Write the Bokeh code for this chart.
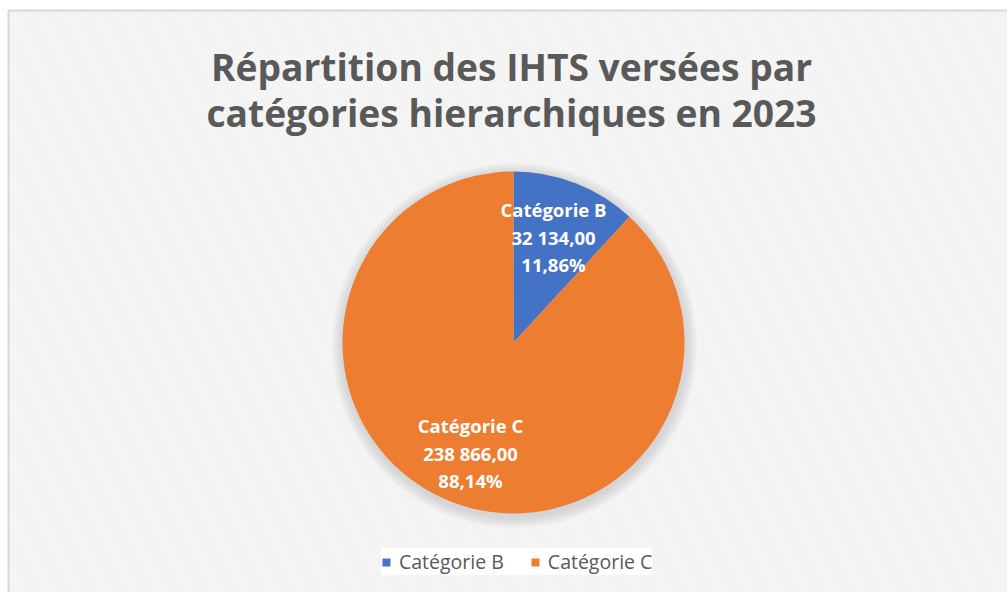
import math
from bokeh.plotting import figure
from bokeh.models import Range1d, Legend, LegendItem, ColumnDataSource
from bokeh.core.properties import value
from bokeh.embed import file_html
from bokeh.resources import INLINE

# ---- data ----
categories = ["Catégorie B", "Catégorie C"]
values = [32134.00, 238866.00]
colors = ["#4472C4", "#ED7D31"]
title_lines = ["Répartition des IHTS versées par", "catégories hierarchiques en 2023"]

W, H = 1007, 592
p = figure(width=W, height=H, output_backend="svg", toolbar_location=None,
           x_range=Range1d(0, W), y_range=Range1d(0, H),
           min_border=0, outline_line_color=None)
p.axis.visible = False
p.grid.visible = False
p.background_fill_color = "white"
p.border_fill_color = "white"

def Y(page_y):
    return H - page_y

# hatched background with border
p.quad(left=[8], right=[1010], bottom=[Y(600)], top=[Y(10)],
       fill_color="white", line_color=None,
       hatch_pattern="left_diagonal_line", hatch_color="#f1f1f1",
       hatch_scale=7, hatch_weight=2.5)
p.segment(x0=[8], y0=[Y(10)], x1=[1010], y1=[Y(10)], line_color="#d9d9d9", line_width=2)
p.segment(x0=[8], y0=[Y(10)], x1=[8], y1=[Y(600)], line_color="#d9d9d9", line_width=2)

# title
p.text(x=[511, 511], y=[Y(66), Y(112)], text=title_lines,
       text_font=value("Open Sans"), text_font_style="bold", text_font_size="37.2px",
       text_color="#595959", text_align="center", text_baseline="middle")

# pie
cx, cy, r = 513, Y(342), 171
# shadow
for k in range(12, 0, -1):
    p.circle(x=[cx + 1], y=[cy - 3], radius=r + k, fill_color="#909090",
             fill_alpha=0.03, line_color=None)

total = sum(values)
fracs = [v / total for v in values]
starts, ends = [], []
acc = 0.0
for f in fracs:
    a0 = math.pi / 2 - 2 * math.pi * (acc + f)
    a1 = math.pi / 2 - 2 * math.pi * acc
    starts.append(a0)
    ends.append(a1)
    acc += f

src = ColumnDataSource(dict(start=starts, end=ends, color=colors, cat=categories))
w = p.wedge(x=cx, y=cy, radius=r, start_angle="start", end_angle="end",
            fill_color="color", line_color="white", line_width=0, source=src)

def fmt_num(v):
    s = f"{v:,.2f}"
    return s.replace(",", " ").replace(".", ",")

def fmt_pct(f):
    return f"{f*100:.2f}%".replace(".", ",")

label_pos = [(553, 209), (470, 425)]
for i, (lx, ly) in enumerate(label_pos):
    lines = [categories[i], fmt_num(values[i]), fmt_pct(fracs[i])]
    p.text(x=[lx] * 3, y=[Y(ly), Y(ly + 28), Y(ly + 55)], text=lines,
           text_font=value("Open Sans"), text_font_style="bold", text_font_size="18.5px",
           text_color="white", text_align="center", text_baseline="middle")

# legend
items = [LegendItem(label=categories[i], renderers=[w], index=i) for i in range(2)]
legend = Legend(items=items, orientation="horizontal", location=(381, 17),
                label_text_font="Open Sans", label_text_font_size="19.5px",
                label_text_color="#595959", glyph_width=10, glyph_height=10,
                spacing=26, padding=15, margin=0, label_standoff=8,
                label_height=13,
                background_fill_color="white", background_fill_alpha=1.0,
                border_line_color=None)
p.add_layout(legend, "center")

open("out.html", "w").write(file_html(p, INLINE))
